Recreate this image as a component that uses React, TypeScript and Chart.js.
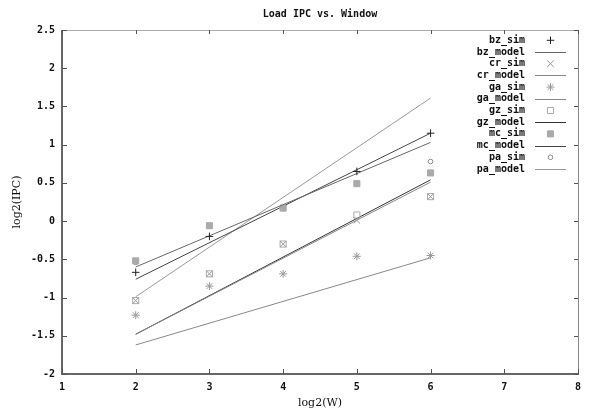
import React, { useEffect, useRef } from 'react';
import { Chart, registerables } from 'chart.js';
import { drawPoint } from 'chart.js/helpers';

Chart.register(...registerables);

const TITLE = 'Load IPC vs. Window';
const X_LABEL = 'log2(W)';
const Y_LABEL = 'log2(IPC)';

const xTickValues = [1, 2, 3, 4, 5, 6, 7, 8];
const yTickValues = [-2, -1.5, -1, -0.5, 0, 0.5, 1, 1.5, 2, 2.5];

const windowX = [2, 3, 4, 5, 6];
const modelX = [2, 6];

const bzSim = [-0.67, -0.2, null, 0.65, 1.15];
const crSim = [-1.04, -0.69, -0.3, 0.01, 0.32];
const gaSim = [-1.23, -0.85, -0.69, -0.46, -0.45];
const gzSim = [-1.04, -0.69, -0.3, 0.08, 0.32];
const mcSim = [-0.52, -0.06, 0.17, 0.49, 0.63];
const paSim = [-0.54, -0.06, 0.17, 0.49, 0.78];

const bzModel = [-0.6, 1.03];
const crModel = [-1.48, 0.51];
const gaModel = [-1.62, -0.48];
const gzModel = [-1.48, 0.54];
const mcModel = [-0.76, 1.15];
const paModel = [-0.99, 1.61];

const FONT = 'bold 10px "DejaVu Sans Mono"';

function pts(xs: number[], ys: (number | null)[]) {
  return xs.map((x, i) => ({ x, y: ys[i] }));
}

function simSet(label: string, ys: (number | null)[], style: string, radius: number, color: string, fill: string) {
  return {
    label,
    data: pts(windowX, ys),
    showLine: false,
    pointStyle: style,
    pointRadius: radius,
    pointBorderColor: color,
    pointBackgroundColor: fill,
    pointBorderWidth: 1,
    borderColor: color,
    backgroundColor: fill,
    isSim: true,
  };
}

function modelSet(label: string, ys: number[], color: string) {
  return {
    label,
    data: pts(modelX, ys),
    showLine: true,
    pointRadius: 0,
    borderColor: color,
    borderWidth: 1,
    backgroundColor: color,
    isSim: false,
  };
}

const decor = {
  id: 'decor',
  beforeDatasetsDraw(chart: any) {
    const { ctx, chartArea: a, scales } = chart;
    ctx.save();
    ctx.strokeStyle = '#aaa';
    ctx.lineWidth = 1;
    ctx.beginPath();
    ctx.moveTo(a.left, a.top + 0.5);
    ctx.lineTo(a.right, a.top + 0.5);
    ctx.stroke();
    ctx.strokeStyle = '#888';
    ctx.beginPath();
    ctx.moveTo(a.right + 0.5, a.top);
    ctx.lineTo(a.right + 0.5, a.bottom);
    ctx.stroke();
    ctx.strokeStyle = '#666';
    ctx.lineWidth = 2;
    ctx.beginPath();
    ctx.moveTo(a.left, a.top);
    ctx.lineTo(a.left, a.bottom);
    ctx.lineTo(a.right + 1, a.bottom);
    ctx.stroke();
    ctx.strokeStyle = '#555';
    ctx.lineWidth = 1;
    ctx.beginPath();
    for (const v of xTickValues) {
      const px = Math.round(scales.x.getPixelForValue(v)) + 0.5;
      ctx.moveTo(px, a.bottom);
      ctx.lineTo(px, a.bottom - 5);
      ctx.moveTo(px, a.top);
      ctx.lineTo(px, a.top + 4);
    }
    for (const v of yTickValues) {
      const py = Math.round(scales.y.getPixelForValue(v)) + 0.5;
      ctx.moveTo(a.left, py);
      ctx.lineTo(a.left + 5, py);
      ctx.moveTo(a.right, py);
      ctx.lineTo(a.right - 4, py);
    }
    ctx.stroke();
    ctx.restore();
  },
  afterDraw(chart: any) {
    const { ctx, chartArea: a } = chart;
    ctx.save();
    ctx.fillStyle = '#111';
    ctx.font = FONT;
    ctx.textAlign = 'center';
    ctx.textBaseline = 'middle';
    ctx.fillText(TITLE, (a.left + a.right) / 2, 14);
    ctx.font = '11px "DejaVu Serif"';
    ctx.fillText(X_LABEL, (a.left + a.right) / 2, 403);
    ctx.save();
    ctx.translate(17, (a.top + a.bottom) / 2);
    ctx.rotate(-Math.PI / 2);
    ctx.fillText(Y_LABEL, 0, 0);
    ctx.restore();

    ctx.font = FONT;
    ctx.textAlign = 'right';
    chart.data.datasets.forEach((ds: any, i: number) => {
      const y = 40.3 + 11.7 * i;
      ctx.fillStyle = '#111';
      ctx.fillText(ds.label, 525, y);
      if (ds.isSim) {
        ctx.save();
        ctx.strokeStyle = ds.pointBorderColor;
        ctx.fillStyle = ds.pointBackgroundColor;
        ctx.lineWidth = 1;
        drawPoint(ctx, { pointStyle: ds.pointStyle, radius: ds.pointRadius, rotation: 0, borderWidth: 1 }, 550.5, y);
        ctx.restore();
      } else {
        ctx.strokeStyle = ds.borderColor;
        ctx.lineWidth = 1;
        ctx.beginPath();
        ctx.moveTo(535, Math.round(y) + 0.5);
        ctx.lineTo(566, Math.round(y) + 0.5);
        ctx.stroke();
      }
    });
    ctx.restore();
  },
};

export default function App() {
  const ref = useRef<HTMLCanvasElement>(null);
  useEffect(() => {
    if (!ref.current) return;
    const datasets: any[] = [
      simSet('bz_sim', bzSim, 'cross', 3.8, '#222', '#222'),
      modelSet('bz_model', bzModel, '#666'),
      simSet('cr_sim', crSim, 'crossRot', 4.6, '#999', '#999'),
      modelSet('cr_model', crModel, '#888'),
      simSet('ga_sim', gaSim, 'star', 4, '#999', '#999'),
      modelSet('ga_model', gaModel, '#888'),
      simSet('gz_sim', gzSim, 'rect', 4.3, '#aaa', 'rgba(0,0,0,0)'),
      modelSet('gz_model', gzModel, '#333'),
      simSet('mc_sim', mcSim, 'rect', 4.3, '#aaa', '#aaa'),
      modelSet('mc_model', mcModel, '#444'),
      simSet('pa_sim', paSim, 'circle', 2.3, '#888', 'rgba(0,0,0,0)'),
      modelSet('pa_model', paModel, '#999'),
    ];
    const chart = new Chart(ref.current, {
      type: 'scatter',
      data: { datasets },
      options: {
        responsive: false,
        animation: false,
        devicePixelRatio: 1,
        layout: { padding: { top: 30, right: 11, left: 0, bottom: 0 } },
        plugins: { legend: { display: false }, title: { display: false }, tooltip: { enabled: false } },
        scales: {
          x: {
            type: 'linear',
            min: 1,
            max: 8,
            grid: { display: false, drawTicks: false },
            border: { display: false },
            afterBuildTicks: (s: any) => { s.ticks = xTickValues.map((v) => ({ value: v })); },
            afterFit: (s: any) => { s.height = 36; },
            ticks: {
              padding: 7,
              color: '#111',
              font: { family: 'DejaVu Sans Mono', size: 10, weight: 'bold' },
              maxRotation: 0,
              callback: (v: any) => String(v),
            },
          },
          y: {
            type: 'linear',
            min: -2,
            max: 2.5,
            grid: { display: false, drawTicks: false },
            border: { display: false },
            afterBuildTicks: (s: any) => { s.ticks = yTickValues.map((v) => ({ value: v })); },
            afterFit: (s: any) => { s.width = 62; },
            ticks: {
              padding: 7,
              color: '#111',
              font: { family: 'DejaVu Sans Mono', size: 10, weight: 'bold' },
              callback: (v: any) => String(v),
            },
          },
        },
      },
      plugins: [decor],
    } as any);
    return () => chart.destroy();
  }, []);
  return (
    <div style={{ position: 'fixed', left: 0, top: 0, width: 589, height: 410, background: '#fff' }}>
      <canvas ref={ref} width={589} height={410} style={{ width: 589, height: 410, display: 'block' }} />
    </div>
  );
}
